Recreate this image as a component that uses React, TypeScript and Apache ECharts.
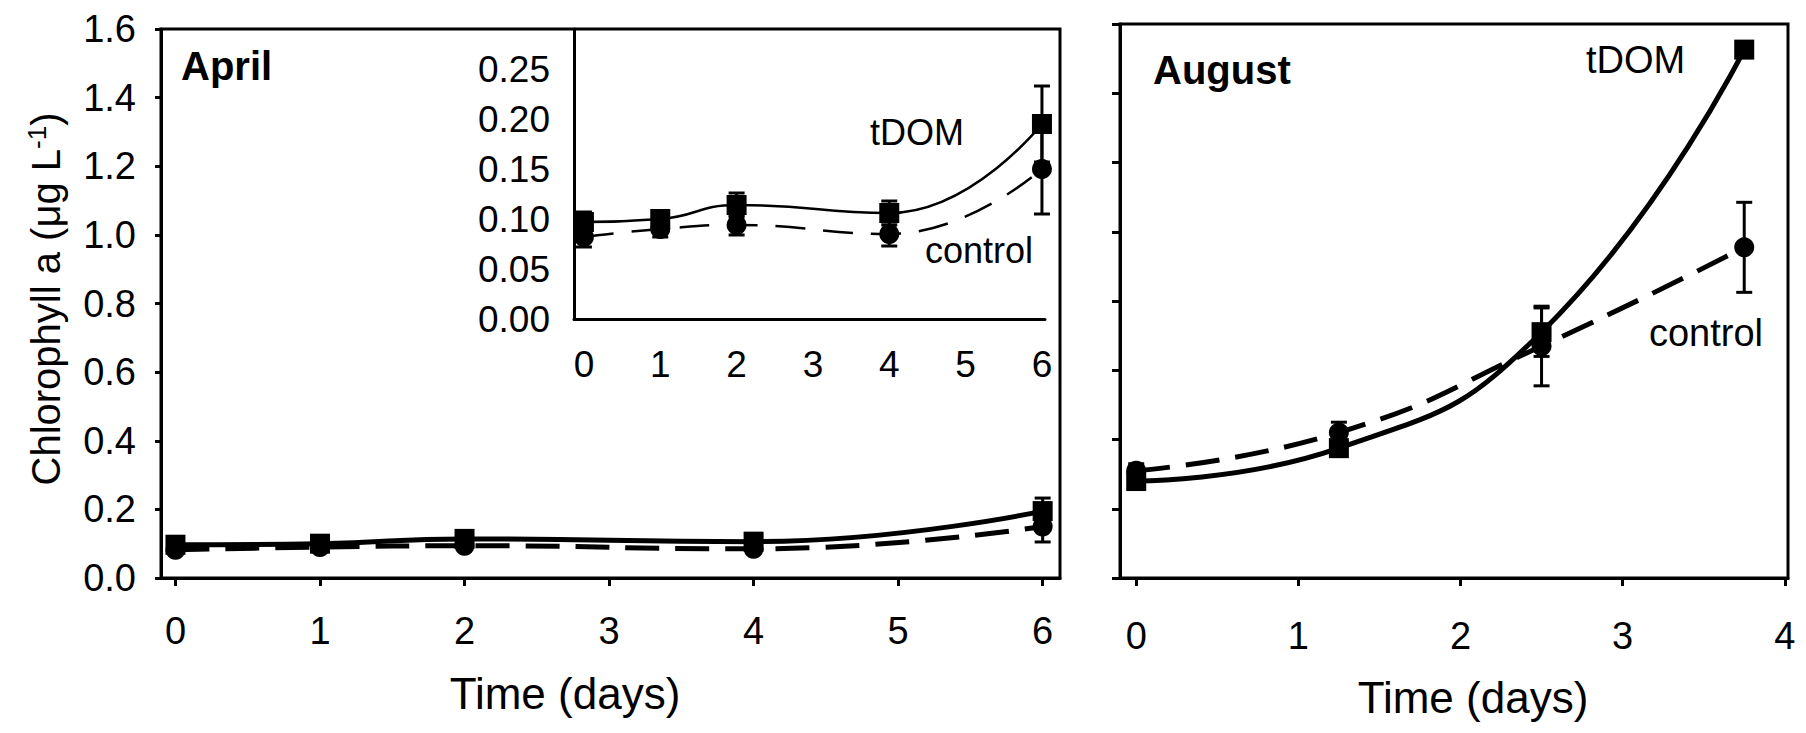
import React, { useEffect, useRef } from 'react';
import * as echarts from 'echarts';

const FONT = '"Liberation Sans", Arial, Helvetica, sans-serif';

// April (days 0..6)
const aprDays = [0, 1, 2, 4, 6];
const aprTdom = [0.097, 0.1, 0.114, 0.106, 0.195];
const aprTdomErr = [0.01, 0.008, 0.012, 0.012, 0.038];
const aprCtrl = [0.082, 0.09, 0.094, 0.085, 0.15];
const aprCtrlErr = [0.01, 0.008, 0.01, 0.012, 0.045];

// August (days 0..3.75)
const augDays = [0, 1.25, 2.5, 3.75];
const augTdom = [0.28, 0.375, 0.71, 1.526];
const augTdomErr = [0.02, 0.02, 0.07, 0.02];
const augCtrl = [0.31, 0.42, 0.67, 0.955];
const augCtrlErr = [0.02, 0.03, 0.115, 0.13];

// tick values
const aprXTicks = [0, 1, 2, 3, 4, 5, 6];
const augXTicks = [0, 1, 2, 3, 4];
const insetYTicks = [0, 0.05, 0.1, 0.15, 0.2, 0.25];

const pairs = (xs: number[], ys: number[]) => xs.map((x, i) => [x, ys[i]]);
const errs = (xs: number[], ys: number[], es: number[]) => xs.map((x, i) => [x, ys[i], es[i]]);

const errRender = (capHalf: number, lw: number) => (params: any, api: any) => {
  const x = api.value(0);
  const y = api.value(1);
  const e = api.value(2);
  const t = api.coord([x, y + e]);
  const b = api.coord([x, y - e]);
  const st = { stroke: '#000', lineWidth: lw };
  return {
    type: 'group',
    children: [
      { type: 'line', shape: { x1: t[0], y1: t[1], x2: b[0], y2: b[1] }, style: st },
      { type: 'line', shape: { x1: t[0] - capHalf, y1: t[1], x2: t[0] + capHalf, y2: t[1] }, style: st },
      { type: 'line', shape: { x1: b[0] - capHalf, y1: b[1], x2: b[0] + capHalf, y2: b[1] }, style: st },
    ],
  };
};

const lineSeries = (idx: number, data: number[][], dashed: boolean, width: number, symbol: string, dash: number[]) => ({
  type: 'line',
  xAxisIndex: idx,
  yAxisIndex: idx,
  data,
  smooth: 0.5,
  symbol,
  symbolSize: 20,
  showSymbol: true,
  lineStyle: { color: '#000', width, type: dashed ? dash : 'solid' },
  itemStyle: { color: '#000' },
  z: 3,
  silent: true,
});

const errSeries = (idx: number, data: number[][]) => ({
  type: 'custom',
  xAxisIndex: idx,
  yAxisIndex: idx,
  renderItem: errRender(8, 3),
  data,
  encode: { x: 0, y: 1 },
  z: 4,
  silent: true,
});

const axisLine = { show: true, onZero: false, lineStyle: { color: '#000', width: 3 } };
const labelBase = { color: '#000', fontFamily: FONT };

const option: any = {
  animation: false,
  backgroundColor: '#fff',
  grid: [
    { left: 161, top: 29, width: 899, height: 549, show: true, borderColor: '#000', borderWidth: 3 },
    { left: 574, top: 29, width: 471, height: 290 },
    { left: 1120, top: 24, width: 668, height: 554, show: true, borderColor: '#000', borderWidth: 3 },
  ],
  xAxis: [
    {
      gridIndex: 0, type: 'value', min: -0.1, max: 6.12,
      axisLine,
      axisTick: { show: true, customValues: aprXTicks, length: 8, lineStyle: { color: '#000', width: 3 } },
      axisLabel: { ...labelBase, customValues: aprXTicks, margin: 34, fontSize: 38 },
      splitLine: { show: false },
    },
    {
      gridIndex: 1, type: 'value', min: -0.13, max: 6.04,
      axisLine,
      axisTick: { show: false },
      axisLabel: { ...labelBase, customValues: aprXTicks, margin: 27, fontSize: 37 },
      splitLine: { show: false },
    },
    {
      gridIndex: 2, type: 'value', min: -0.1, max: 4.02,
      axisLine,
      axisTick: { show: true, customValues: augXTicks, length: 8, lineStyle: { color: '#000', width: 3 } },
      axisLabel: { ...labelBase, customValues: augXTicks, margin: 39, fontSize: 38 },
      splitLine: { show: false },
    },
  ],
  yAxis: [
    {
      gridIndex: 0, type: 'value', min: 0, max: 1.6, interval: 0.2,
      axisLine,
      axisTick: { show: true, length: 6, lineStyle: { color: '#000', width: 3 } },
      axisLabel: { ...labelBase, margin: 25, fontSize: 38, formatter: (v: number) => v.toFixed(1) },
      splitLine: { show: false },
    },
    {
      gridIndex: 1, type: 'value', min: 0, max: 0.29,
      axisLine,
      axisTick: { show: false },
      axisLabel: { ...labelBase, customValues: insetYTicks, margin: 24, fontSize: 37, formatter: (v: number) => v.toFixed(2) },
      splitLine: { show: false },
    },
    {
      gridIndex: 2, type: 'value', min: 0, max: 1.6, interval: 0.2,
      axisLine,
      axisTick: { show: true, length: 8, lineStyle: { color: '#000', width: 3 } },
      axisLabel: { show: false },
      splitLine: { show: false },
    },
  ],
  series: [
    // April main
    lineSeries(0, pairs(aprDays, aprTdom), false, 5, 'rect', []),
    lineSeries(0, pairs(aprDays, aprCtrl), true, 5, 'circle', [34, 16]),
    errSeries(0, errs(aprDays, aprTdom, aprTdomErr)),
    errSeries(0, errs(aprDays, aprCtrl, aprCtrlErr)),
    // April inset
    lineSeries(1, pairs(aprDays, aprTdom), false, 2.5, 'rect', []),
    lineSeries(1, pairs(aprDays, aprCtrl), true, 2.5, 'circle', [30, 18]),
    errSeries(1, errs(aprDays, aprTdom, aprTdomErr)),
    errSeries(1, errs(aprDays, aprCtrl, aprCtrlErr)),
    // August
    lineSeries(2, pairs(augDays, augTdom), false, 5, 'rect', []),
    lineSeries(2, pairs(augDays, augCtrl), true, 5, 'circle', [34, 16]),
    errSeries(2, errs(augDays, augTdom, augTdomErr)),
    errSeries(2, errs(augDays, augCtrl, augCtrlErr)),
  ],
  graphic: [
    { type: 'text', x: 181, y: 66, silent: true, style: { text: 'April', font: `bold 40px ${FONT}`, fill: '#000', align: 'left', verticalAlign: 'middle' } },
    { type: 'text', x: 1153, y: 70, silent: true, style: { text: 'August', font: `bold 40px ${FONT}`, fill: '#000', align: 'left', verticalAlign: 'middle' } },
    { type: 'text', x: 870, y: 132, silent: true, style: { text: 'tDOM', font: `36px ${FONT}`, fill: '#000', align: 'left', verticalAlign: 'middle' } },
    { type: 'text', x: 1033, y: 250, silent: true, style: { text: 'control', font: `36px ${FONT}`, fill: '#000', align: 'right', verticalAlign: 'middle' } },
    { type: 'text', x: 1586, y: 60, silent: true, style: { text: 'tDOM', font: `38px ${FONT}`, fill: '#000', align: 'left', verticalAlign: 'middle' } },
    { type: 'text', x: 1763, y: 333, silent: true, style: { text: 'control', font: `38px ${FONT}`, fill: '#000', align: 'right', verticalAlign: 'middle' } },
    { type: 'text', x: 565, y: 693, silent: true, style: { text: 'Time (days)', font: `44px ${FONT}`, fill: '#000', align: 'center', verticalAlign: 'middle' } },
    { type: 'text', x: 1473, y: 697, silent: true, style: { text: 'Time (days)', font: `44px ${FONT}`, fill: '#000', align: 'center', verticalAlign: 'middle' } },
    {
      type: 'text', x: 46, y: 299, rotation: Math.PI / 2, silent: true,
      style: {
        text: '{b|Chlorophyll a (μg L}{s|-1}{b|)}',
        align: 'center', verticalAlign: 'middle',
        rich: {
          b: { fontSize: 40, fontFamily: FONT, fill: '#000', lineHeight: 44 },
          s: { fontSize: 26, fontFamily: FONT, fill: '#000', verticalAlign: 'top', lineHeight: 44 },
        },
      },
    },
  ],
};

export default function App() {
  const ref = useRef<HTMLDivElement>(null);
  useEffect(() => {
    document.body.style.margin = '0';
    const chart = echarts.init(ref.current as HTMLDivElement, null, { renderer: 'svg', width: 1806, height: 733 });
    chart.setOption(option);
    return () => chart.dispose();
  }, []);
  return <div ref={ref} style={{ width: 1806, height: 733, background: '#fff' }} />;
}
